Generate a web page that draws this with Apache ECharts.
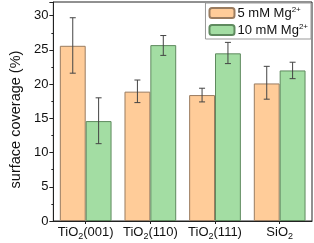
<!DOCTYPE html>
<html><head><meta charset="utf-8">
<script src="https://cdn.jsdelivr.net/npm/echarts@6/dist/echarts.min.js"></script>
<style>html,body{margin:0;padding:0;background:#fff}#c{width:314px;height:243px}</style>
</head><body><div id="c"></div>
<script>
const categories = ['TiO2(001)', 'TiO2(110)', 'TiO2(111)', 'SiO2'];
const categoryBase = ['TiO', 'TiO', 'TiO', 'SiO'];
const categorySuffix = ['(001)', '(110)', '(111)', ''];
const seriesNames = ['5 mM Mg2+', '10 mM Mg2+'];
const mg5 = [25.6, 18.9, 18.4, 20.1];
const mg5Low = [21.6, 17.3, 17.4, 17.8];
const mg5High = [29.7, 20.6, 19.4, 22.6];
const mg10 = [14.6, 25.7, 24.5, 22.0];
const mg10Low = [11.3, 24.2, 23.0, 20.8];
const mg10High = [18.0, 27.1, 26.1, 23.2];
const yTicks = [0, 5, 10, 15, 20, 25, 30];

const FONT = 'Liberation Sans, Arial, sans-serif';
const chart = echarts.init(document.getElementById('c'), null, {renderer: 'canvas'});

function errSeries(low, high, side) {
  return {
    type: 'custom',
    z: 10,
    silent: true,
    data: categories.map((c, i) => [i, low[i], high[i]]),
    encode: {x: 0, y: [1, 2]},
    renderItem: function (params, api) {
      const i = api.value(0);
      const band = api.size([1, 0])[0];
      const lo = api.coord([i, api.value(1)]);
      const hi = api.coord([i, api.value(2)]);
      const x = lo[0] + side * band * 0.2;
      const cap = 3;
      const st = {stroke: '#444', lineWidth: 1};
      return {type: 'group', children: [
        {type: 'line', shape: {x1: x, y1: lo[1], x2: x, y2: hi[1]}, style: st},
        {type: 'line', shape: {x1: x - cap, y1: lo[1], x2: x + cap, y2: lo[1]}, style: st},
        {type: 'line', shape: {x1: x - cap, y1: hi[1], x2: x + cap, y2: hi[1]}, style: st}
      ]};
    }
  };
}

const richSup = {
  t: {fontSize: 13, fontFamily: FONT, color: '#111', verticalAlign: 'bottom', lineHeight: 14},
  sup: {fontSize: 8, fontFamily: FONT, color: '#111', verticalAlign: 'top', lineHeight: 14, padding: [0, 0, 6, 0]}
};

chart.setOption({
  animation: false,
  textStyle: {fontFamily: FONT},
  grid: {left: 40, right: 2, top: 2, bottom: 22, show: true, borderColor: '#222', borderWidth: 1, containLabel: false},
  legend: {
    right: 3, top: 3,
    orient: 'vertical',
    itemWidth: 25, itemHeight: 10, itemGap: 3,
    padding: [3, 3, 2, 3],
    borderColor: '#999', borderWidth: 1, borderRadius: 0,
    backgroundColor: '#fff',
    data: seriesNames,
    formatter: function (n) {
      return '{t|' + n.replace('2+', '') + '}{sup|2+}';
    },
    textStyle: {rich: richSup, fontSize: 13, color: '#111', padding: [0, 0, 0, -2]}
  },
  xAxis: {
    type: 'category',
    data: categories,
    axisLine: {lineStyle: {color: '#222', width: 1}},
    axisTick: {show: true, alignWithLabel: true, length: 3, lineStyle: {color: '#222'}},
    axisLabel: {
      interval: 0,
      margin: 5, color: '#111',
      formatter: function (v, i) {
        return '{t|' + categoryBase[i] + '}{sub|2}{t|' + categorySuffix[i] + '}';
      },
      rich: {
        t: {fontSize: 13, fontFamily: FONT, color: '#111', verticalAlign: 'top', lineHeight: 15},
        sub: {fontSize: 9, fontFamily: FONT, color: '#111', verticalAlign: 'top', lineHeight: 15, padding: [6, 0, 0, 0]}
      }
    },
    splitLine: {show: false}
  },
  yAxis: {
    type: 'value',
    min: 0, max: 32, interval: 5,
    name: 'surface coverage (%)',
    nameLocation: 'middle',
    nameGap: 26,
    nameTextStyle: {fontSize: 14.5, color: '#111', fontFamily: FONT, padding: [0, 0, 0, -16]},
    axisLine: {show: true, lineStyle: {color: '#222', width: 1}},
    axisTick: {show: true, length: 4, lineStyle: {color: '#222'}},
    minorTick: {show: true, splitNumber: 2, length: 2, lineStyle: {color: '#222'}},
    axisLabel: {fontSize: 13, color: '#111', margin: 5,
      formatter: function (v) { return yTicks.indexOf(v) >= 0 ? String(v) : ''; }},
    splitLine: {show: false}
  },
  series: [
    {name: seriesNames[0], type: 'bar', data: mg5, barGap: '0%', barCategoryGap: '20%',
      itemStyle: {color: '#FFCC99', borderColor: '#9a7c60', borderWidth: 1}},
    {name: seriesNames[1], type: 'bar', data: mg10, barGap: '0%', barCategoryGap: '20%',
      itemStyle: {color: '#A3DDA3', borderColor: '#5f8a5f', borderWidth: 1}},
    errSeries(mg5Low, mg5High, -1),
    errSeries(mg10Low, mg10High, 1)
  ]
});
</script></body></html>
